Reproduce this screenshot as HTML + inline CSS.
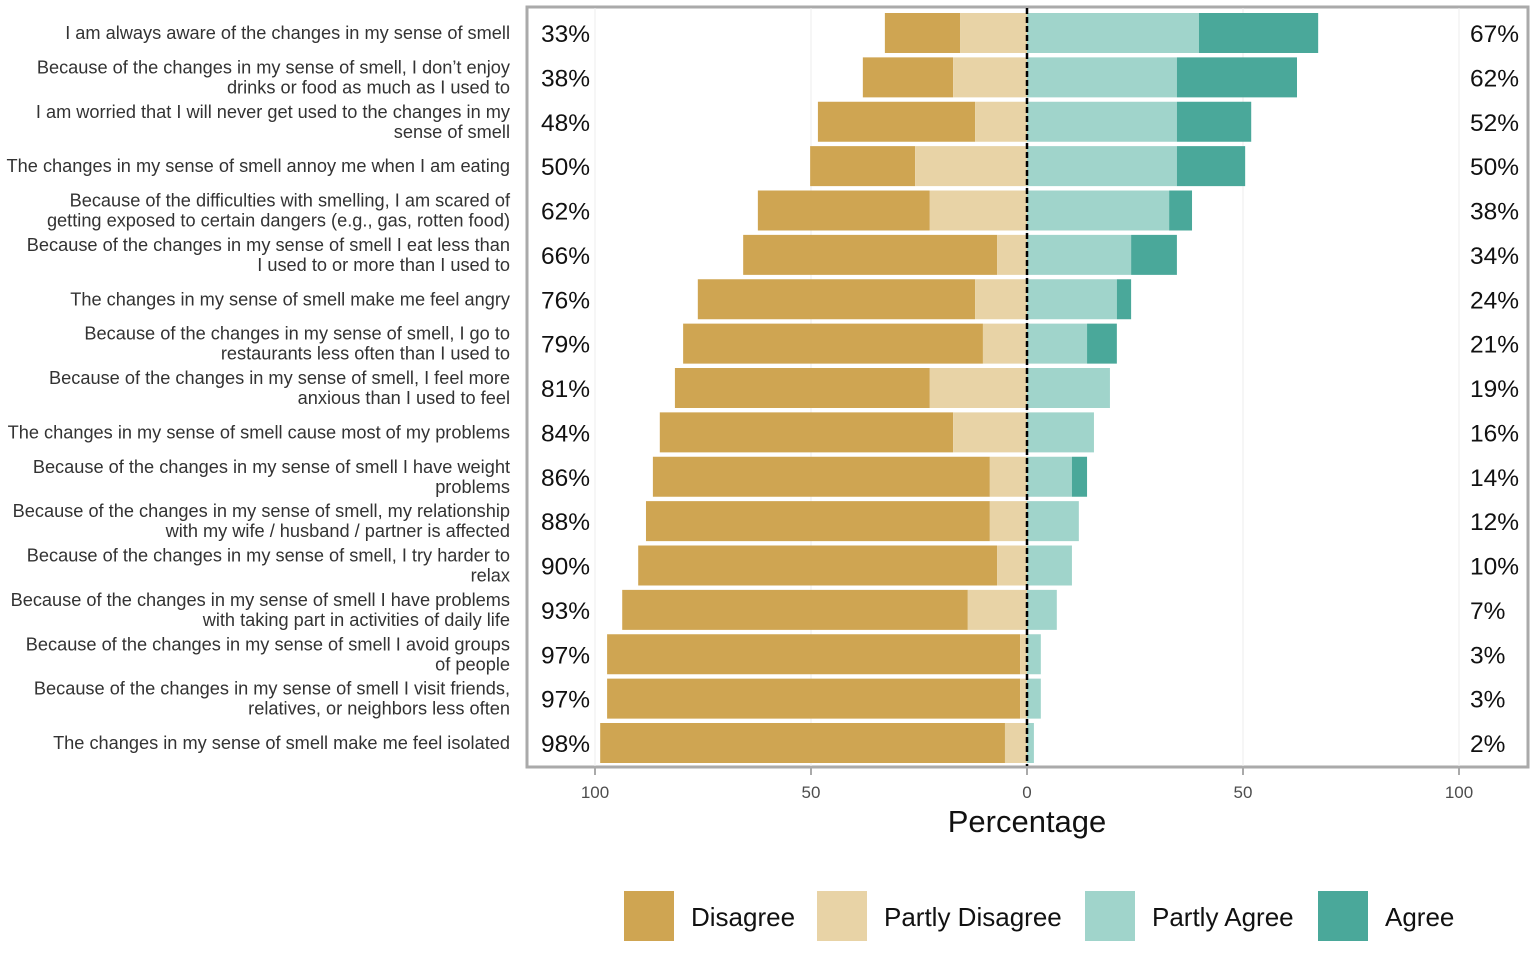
<!DOCTYPE html>
<html><head><meta charset="utf-8"><style>
body{margin:0;background:#fff;font-family:"Liberation Sans",sans-serif}
</style></head><body>
<svg id="c" width="1535" height="948" xmlns="http://www.w3.org/2000/svg" style="font-family:'Liberation Sans',sans-serif"></svg>
<script>
const items=[
["I am always aware of the changes in my sense of smell"],
["Because of the changes in my sense of smell, I don’t enjoy","drinks or food as much as I used to"],
["I am worried that I will never get used to the changes in my","sense of smell"],
["The changes in my sense of smell annoy me when I am eating"],
["Because of the difficulties with smelling, I am scared of","getting exposed to certain dangers (e.g., gas, rotten food)"],
["Because of the changes in my sense of smell I eat less than","I used to or more than I used to"],
["The changes in my sense of smell make me feel angry"],
["Because of the changes in my sense of smell, I go to","restaurants less often than I used to"],
["Because of the changes in my sense of smell, I feel more","anxious than I used to feel"],
["The changes in my sense of smell cause most of my problems"],
["Because of the changes in my sense of smell I have weight","problems"],
["Because of the changes in my sense of smell, my relationship","with my wife / husband / partner is affected"],
["Because of the changes in my sense of smell, I try harder to","relax"],
["Because of the changes in my sense of smell I have problems","with taking part in activities of daily life"],
["Because of the changes in my sense of smell I avoid groups","of people"],
["Because of the changes in my sense of smell I visit friends,","relatives, or neighbors less often"],
["The changes in my sense of smell make me feel isolated"]];
const disagree=[17.4,20.9,36.4,24.3,39.8,58.8,64.2,69.4,59,67.9,78,79.6,83.1,80,95.6,95.6,93.7];
const partlyDisagree=[15.5,17.1,12,25.9,22.5,6.9,12,10.2,22.5,17.1,8.6,8.6,6.9,13.7,1.6,1.6,5.1];
const partlyAgree=[39.8,34.7,34.7,34.7,32.9,24.1,20.8,13.9,19.2,15.5,10.4,12,10.4,6.9,3.2,3.2,1.6];
const agree=[27.6,27.8,17.2,15.8,5.3,10.6,3.3,6.9,0,0,3.5,0,0,0,0,0,0];
const leftLabels=["33%","38%","48%","50%","62%","66%","76%","79%","81%","84%","86%","88%","90%","93%","97%","97%","98%"];
const rightLabels=["67%","62%","52%","50%","38%","34%","24%","21%","19%","16%","14%","12%","10%","7%","3%","3%","2%"];
const ticks=[-100,-50,0,50,100];
const tickLabels=["100","50","0","50","100"];
const cols=["#CFA552","#E8D3A6","#A0D4CB","#4AA89A"];
const svg=document.getElementById('c');const NS="http://www.w3.org/2000/svg";
function x(v){return 1027+v*4.32;}
function y(i){return 33+i*44.375;}
function mk(t,a,p){const e=document.createElementNS(NS,t);for(const k in a)e.setAttribute(k,a[k]);(p||svg).appendChild(e);return e;}
mk('rect',{x:527,y:7,width:1001,height:760,fill:'#fff',stroke:'#aaa','stroke-width':3});
ticks.forEach((t,i)=>{
 const g=mk('line',{x1:x(t),x2:x(t),y1:8,y2:766,stroke:'#ececec','stroke-width':1});
 
 
 const tk=mk('line',{x1:x(t),x2:x(t),y1:768,y2:775,stroke:'#aaa','stroke-width':2});
 
 
 const tl=mk('text',{x:x(t),y:798,'font-size':17,'text-anchor':'middle',fill:'#4d4d4d'});tl.textContent=tickLabels[i];
 
 
});
items.forEach((lab,i)=>{
 const c=y(i),h=40,top=c-h/2;
 const segs=[[-(disagree[i]+partlyDisagree[i]),disagree[i],0],[-partlyDisagree[i],partlyDisagree[i],1],[0,partlyAgree[i],2],[partlyAgree[i],agree[i],3]];
 segs.forEach(s=>{if(s[1]<=0)return;const r=mk('rect',{x:x(s[0]),y:top,width:s[1]*4.32,height:h,fill:cols[s[2]]});
 
 });
 const t=mk('text',{x:510,'font-size':18.2,'text-anchor':'end',fill:'#333'});
 
 
 if(lab.length==1){t.setAttribute('y',c+6);t.textContent=lab[0];}
 else{[0,1].forEach(k=>{const s=mk('tspan',{x:510,y:c-4+k*20},t);s.textContent=lab[k];});}
 const l=mk('text',{x:541,y:c+9,'font-size':24.5,fill:'#111'});l.textContent=leftLabels[i];
 
 
 const r=mk('text',{x:1470,y:c+9,'font-size':24.5,fill:'#111'});r.textContent=rightLabels[i];
 
 
});
const z=mk('line',{x1:x(0),x2:x(0),y1:8,y2:766,stroke:'#000','stroke-width':2.5,'stroke-dasharray':'6,3'});


const xt=mk('text',{x:1027,y:832,'font-size':31,'text-anchor':'middle',fill:'#111'});xt.textContent='Percentage';


const leg=[["Disagree",624],["Partly Disagree",817],["Partly Agree",1085],["Agree",1318]];
leg.forEach((l,i)=>{
 const r=mk('rect',{x:l[1],y:891,width:50,height:50,fill:cols[i]});
 
 
 const t=mk('text',{x:l[1]+67,y:926,'font-size':26,fill:'#111'});t.textContent=l[0];
 
 
});
</script></body></html>
